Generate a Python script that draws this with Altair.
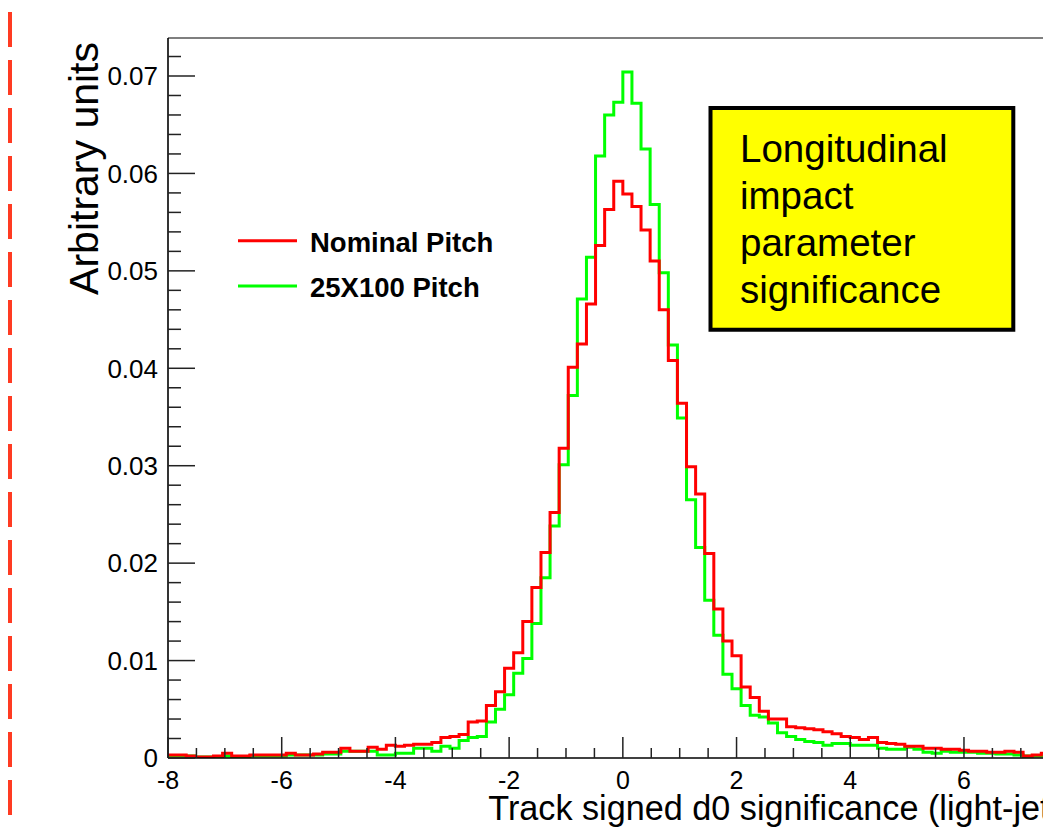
import altair as alt
import pandas as pd

FONT = "Liberation Sans"

# ---- data -------------------------------------------------------------
bin_lo = -8.0
bin_width = 0.16
n_bins = 100
edges = [round(bin_lo + bin_width * i, 4) for i in range(n_bins + 1)]

nominal = [
    0.0003, 0.0003, 0.0002, 0.0001, 0.0001, 0.0002, 0.0005, 0.0002, 0.0002, 0.0003,
    0.0003, 0.0003, 0.0003, 0.0005, 0.0003, 0.0003, 0.0004, 0.0006, 0.0006, 0.0010,
    0.0007, 0.0007, 0.0011, 0.0009, 0.0013, 0.0012, 0.0013, 0.0014, 0.0014, 0.0016,
    0.0021, 0.0022, 0.0024, 0.0037, 0.0038, 0.0054, 0.0068, 0.0092, 0.0108, 0.0140,
    0.0175, 0.0211, 0.0252, 0.0318, 0.0401, 0.0425, 0.0466, 0.0526, 0.0563, 0.0592,
    0.0579, 0.0566, 0.0542, 0.0510, 0.0460, 0.0408, 0.0364, 0.0299, 0.0271, 0.0210,
    0.0153, 0.0120, 0.0105, 0.0073, 0.0062, 0.0048, 0.0040, 0.0040, 0.0032, 0.0031,
    0.0030, 0.0029, 0.0027, 0.0025, 0.0022, 0.0021, 0.0019, 0.0021, 0.0016, 0.0015,
    0.0014, 0.0012, 0.0012, 0.0010, 0.0010, 0.0009, 0.0009, 0.0008, 0.0007, 0.0007,
    0.0006, 0.0006, 0.0007, 0.0006, 0.0002, 0.0003, 0.0005, 0.0004, 0.0003, 0.0003,
]

pitch_25x100 = [
    0.0002, 0.0002, 0.0002, 0.0001, 0.0001, 0.0001, 0.0002, 0.0001, 0.0001, 0.0002,
    0.0002, 0.0002, 0.0002, 0.0003, 0.0003, 0.0003, 0.0003, 0.0004, 0.0004, 0.0007,
    0.0007, 0.0007, 0.0007, 0.0003, 0.0003, 0.0005, 0.0005, 0.0010, 0.0010, 0.0007,
    0.0012, 0.0010, 0.0018, 0.0021, 0.0022, 0.0037, 0.0050, 0.0065, 0.0087, 0.0102,
    0.0138, 0.0185, 0.0238, 0.0301, 0.0372, 0.0471, 0.0514, 0.0618, 0.0660, 0.0673,
    0.0704, 0.0672, 0.0625, 0.0568, 0.0498, 0.0424, 0.0349, 0.0265, 0.0216, 0.0162,
    0.0126, 0.0086, 0.0071, 0.0054, 0.0044, 0.0042, 0.0036, 0.0026, 0.0022, 0.0019,
    0.0017, 0.0016, 0.0013, 0.0015, 0.0015, 0.0013, 0.0013, 0.0013, 0.0010, 0.0009,
    0.0009, 0.0011, 0.0009, 0.0006, 0.0005, 0.0007, 0.0006, 0.0006, 0.0006, 0.0005,
    0.0005, 0.0004, 0.0004, 0.0003, 0.0002, 0.0002, 0.0002, 0.0002, 0.0002, 0.0002,
]

series_names = ["Nominal Pitch", "25X100 Pitch"]
series_colors = ["#ff0000", "#00ff00"]

x_major = [-8, -6, -4, -2, 0, 2, 4, 6]
x_tick_labels = ["-8", "-6", "-4", "-2", "0", "2", "4", "6"]
y_major = [0, 0.01, 0.02, 0.03, 0.04, 0.05, 0.06, 0.07]
y_tick_labels = ["0", "0.01", "0.02", "0.03", "0.04", "0.05", "0.06", "0.07"]

box_lines = ["Longitudinal", "impact", "parameter", "significance"]
x_title = "Track signed d0 significance (light-jets)"
y_title = "Arbitrary units"

# ---- layout -----------------------------------------------------------
X_MIN, X_MAX = -8, 7.39
Y_MIN, Y_MAX = 0, 0.0739
W, H = 875, 720

x_minor = [v / 2 for v in range(-15, 16) if v % 4 != 0 and v / 2 <= X_MAX]
y_minor = [round(0.002 * i, 3) for i in range(1, 37) if i % 5 != 0]

xs = alt.Scale(domain=[X_MIN, X_MAX], nice=False, zero=False)
ys = alt.Scale(domain=[Y_MIN, Y_MAX], nice=False, zero=False)


def step_frame(values):
    xs_ = list(edges)
    ys_ = list(values) + [values[-1]]
    return pd.DataFrame({"x": xs_, "y": ys_})


one = pd.DataFrame({"a": [0]})
layers = []

# histograms (green under red)
for vals, color in [(pitch_25x100, series_colors[1]), (nominal, series_colors[0])]:
    layers.append(
        alt.Chart(step_frame(vals)).mark_line(
            interpolate="step-after", color=color, strokeWidth=3, clip=True
        ).encode(
            x=alt.X("x:Q", scale=xs, axis=None),
            y=alt.Y("y:Q", scale=ys, axis=None),
        )
    )

# frame: left / bottom axis lines and top line
layers.append(alt.Chart(one).mark_rule(color="black", strokeWidth=1.6).encode(
    x=alt.value(0), y=alt.value(0), y2=alt.value(H)))
layers.append(alt.Chart(one).mark_rule(color="black", strokeWidth=1.6).encode(
    x=alt.value(0), x2=alt.value(W), y=alt.value(H)))
layers.append(alt.Chart(one).mark_rule(color="black", strokeWidth=1.2).encode(
    x=alt.value(0), x2=alt.value(W), y=alt.value(0)))

# inward ticks
for vals, size in [(x_major, 21), (x_minor, 10)]:
    layers.append(
        alt.Chart(pd.DataFrame({"v": vals})).mark_rule(color="#222222", strokeWidth=1.5).encode(
            x=alt.X("v:Q", scale=xs, axis=None),
            y=alt.value(H), y2=alt.value(H - size),
        )
    )
for vals, size in [(y_major, 27), (y_minor, 13)]:
    layers.append(
        alt.Chart(pd.DataFrame({"v": vals})).mark_rule(color="#222222", strokeWidth=1.5).encode(
            y=alt.Y("v:Q", scale=ys, axis=None),
            x=alt.value(0), x2=alt.value(size),
        )
    )

# tick labels
layers.append(
    alt.Chart(pd.DataFrame({"v": x_major, "t": x_tick_labels})).mark_text(
        align="center", baseline="alphabetic", font=FONT, fontSize=25, color="black"
    ).encode(x=alt.X("v:Q", scale=xs, axis=None), y=alt.value(H + 30.5), text="t:N")
)
layers.append(
    alt.Chart(pd.DataFrame({"v": y_major, "t": y_tick_labels})).mark_text(
        align="right", baseline="alphabetic", font=FONT, fontSize=26, color="black", dy=9.3
    ).encode(y=alt.Y("v:Q", scale=ys, axis=None), x=alt.value(-10), text="t:N")
)

# axis titles
layers.append(alt.Chart(one).mark_text(
    align="right", baseline="alphabetic", font=FONT, fontSize=34.2, color="black"
).encode(x=alt.value(910), y=alt.value(782), text=alt.value(x_title)))
layers.append(alt.Chart(one).mark_text(
    align="right", baseline="alphabetic", font=FONT, fontSize=41, color="black", angle=270
).encode(x=alt.value(-70), y=alt.value(4), text=alt.value(y_title)))

# legend
for i, (name, color) in enumerate(zip(series_names, series_colors)):
    layers.append(
        alt.Chart(one).mark_rule(color=color, strokeWidth=3).encode(
            x=alt.value(70), x2=alt.value(129), y=alt.value(202.7 + 45.3 * i)
        )
    )
    layers.append(
        alt.Chart(one).mark_text(
            align="left", baseline="alphabetic", font=FONT, fontSize=27.5,
            fontWeight="bold", color="black",
        ).encode(x=alt.value(142), y=alt.value(213.7 + 45.3 * i), text=alt.value(name))
    )

# yellow annotation box
layers.append(
    alt.Chart(one).mark_rect(fill="#ffff00", stroke="black", strokeWidth=4).encode(
        x=alt.value(542.5), x2=alt.value(845.3), y=alt.value(70), y2=alt.value(291.7)
    )
)
layers.append(
    alt.Chart(one).mark_text(
        align="left", baseline="alphabetic", font=FONT, fontSize=38.5,
        lineHeight=47, color="black",
    ).encode(x=alt.value(572), y=alt.value(123.7), text=alt.value(box_lines))
)

# dashed red line at the far left
layers.append(
    alt.Chart(one).mark_rule(color="#ff3b22", strokeWidth=4, strokeDash=[35, 13]).encode(
        x=alt.value(-158), y=alt.value(-26), y2=alt.value(777)
    )
)

chart = alt.layer(*layers).properties(
    width=W, height=H,
    autosize=alt.AutoSizeParams(type="none"),
    padding={"left": 160, "top": 30, "right": 0, "bottom": 73},
    background="white",
).configure_view(strokeWidth=0)

chart.save("out.html", embed_options={"renderer": "svg", "actions": False})
